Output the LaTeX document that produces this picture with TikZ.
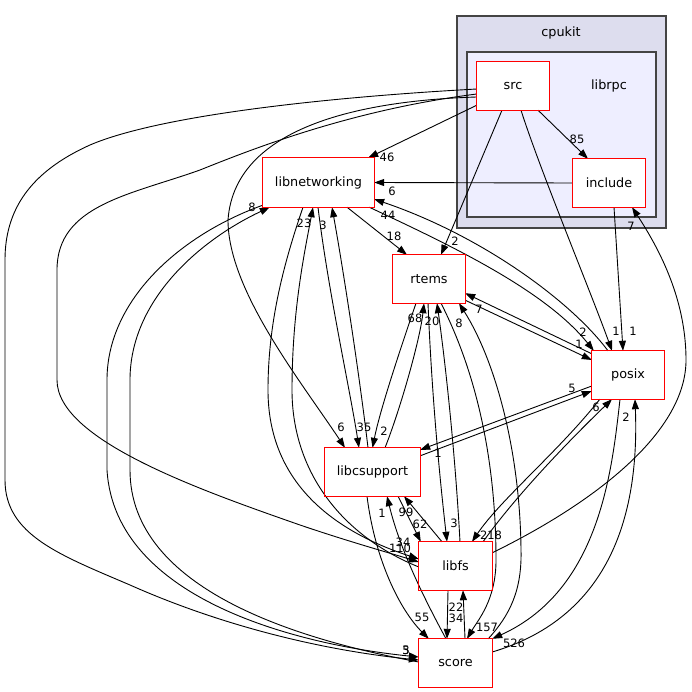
\documentclass[tikz,border=0pt]{standalone}
\usepackage{fontspec}
\setmainfont{DejaVu Sans}
\usetikzlibrary{arrows.meta,calc}
\definecolor{boxred}{RGB}{255,0,0}
\definecolor{outerfill}{RGB}{221,221,238}
\definecolor{innerfill}{RGB}{238,238,255}
\definecolor{clline}{RGB}{68,68,68}
\begin{document}
\begin{tikzpicture}[x=1pt,y=-1pt,
  dnode/.style={fill=white, minimum width=72pt, minimum height=48pt, inner sep=0pt, font=\fontsize{12.8}{15}\selectfont},
  clbox/.style={draw=clline, line width=1.3pt},
  dep/.style={-{Triangle[length=10pt,width=7pt]}, line width=0.9pt},
  lbl/.style={inner sep=0pt, font=\fontsize{11.5}{13}\selectfont},
  rim/.style={draw=boxred, line width=1.1pt}]
\useasboundingbox (0,0) rectangle (691,692);
% clusters
\draw[clbox, fill=outerfill] (457,16) rectangle (666,228);
\node[lbl, font=\fontsize{12.8}{15}\selectfont] (cpukitlbl) at (561,33) {cpukit};
\draw[clbox, fill=innerfill] (467,52) rectangle (656,217);
\node[lbl, font=\fontsize{12.8}{15}\selectfont] (librpclbl) at (609,86) {librpc};
% nodes
\node[dnode] (src) at (513,86) {src};
\node[dnode] (include) at (609,183) {include};
\node[dnode, minimum width=111pt, minimum height=49pt] (libnet) at (318.5,182.5) {libnetworking};
\node[dnode] (rtems) at (429,279) {rtems};
\node[dnode] (posix) at (628,375) {posix};
\node[dnode, minimum width=95pt] (libcs) at (372.5,472) {libcsupport};
\node[dnode, minimum width=73pt] (libfs) at (455.5,566) {libfs};
\node[dnode, minimum width=73pt] (score) at (455.5,663) {score};
% edges from src
\draw[dep] ($(src.south west)+(0,-5)$) -- ($(libnet.north east)+(-6,0)$);
\draw[dep] ($(src.south)+(25,0)$) -- ($(include.north)+(-21,0)$);
\draw[dep] ($(src.south)+(-11,0)$) -- ($(rtems.north)+(12,0)$);
\draw[dep] ($(src.south)+(8,0)$) .. controls (540,170) and (590,290) .. ($(posix.north)+(-16,0)$);
\draw[dep] ($(src.west)+(0,11)$) .. controls (380,100) and (235,120) .. (228,220) .. controls (228,290) and (300,380) .. ($(libcs.north)+(-27.5,0)$);
\draw[dep] ($(src.west)+(0,8)$) .. controls (350,110) and (250,150) .. (200,170) .. controls (130,195) and (57,205) .. (57,270) -- (57,380) .. controls (57,440) and (200,490) .. (300,525) .. controls (350,542) and (390,553) .. ($(libfs.west)+(0,-4)$);
\draw[dep] ($(src.west)+(0,3)$) .. controls (330,97) and (160,115) .. (90,145) .. controls (30,172) and (5,210) .. (5,260) -- (5,480) .. controls (5,535) and (60,555) .. (130,585) .. controls (220,625) and (320,650) .. ($(score.west)+(0,-3)$);
% include
\draw[dep] (include.west) -- (libnet.east);
\draw[dep] ($(include.south)+(5,0)$) -- ($(posix.north)+(-5,0)$);
% libnetworking
\draw[dep] ($(libnet.south)+(28.5,0)$) -- ($(rtems.north)+(-22,0)$);
\draw[dep] ($(libnet.south east)+(-5,0)$) .. controls (450,245) and (545,290) .. ($(posix.north west)+(2,0)$);
\draw[dep] ($(libnet.south)+(-0.5,0)$) .. controls (328,290) and (350,390) .. ($(libcs.north)+(-13.5,0)$);
\draw[dep] ($(libnet.south)+(-15.5,0)$) .. controls (285,260) and (268,320) .. (268,390) .. controls (268,480) and (330,530) .. ($(libfs.west)+(0,-7)$);
\draw[dep] ($(libnet.south west)+(0,-2)$) .. controls (180,235) and (107,300) .. (107,380) -- (107,470) .. controls (115,600) and (300,645) .. ($(score.west)+(0,-6)$);
% rtems
\draw[dep] ($(rtems.south east)+(0,-3)$) -- ($(posix.west)+(0,-15)$);
\draw[dep] ($(rtems.south)+(-13,0)$) .. controls (400,350) and (380,410) .. (libcs.north);
\draw[dep] ($(rtems.south)+(-1,0)$) .. controls (432,400) and (440,480) .. ($(libfs.north)+(-8.5,0)$);
\draw[dep] ($(rtems.south)+(12,0)$) .. controls (480,380) and (496,470) .. (496,560) .. controls (496,600) and (478,620) .. ($(score.north)+(11.5,0)$);
% posix
\draw[dep] ($(posix.north)+(-20,0)$) .. controls (570,300) and (480,235) .. ($(libnet.south east)+(0,-8)$);
\draw[dep] ($(posix.north west)+(0,3)$) -- ($(rtems.south east)+(0,-10)$);
\draw[dep] ($(posix.west)+(0,11)$) -- ($(libcs.north east)+(0,2)$);
\draw[dep] ($(posix.south west)+(8,0)$) .. controls (560,450) and (500,500) .. ($(libfs.north)+(16.5,0)$);
\draw[dep] ($(posix.south)+(-8,0)$) .. controls (612,470) and (600,590) .. (score.north east);
% libcsupport
\draw[dep] ($(libcs.north)+(-4.5,0)$) .. controls (360,380) and (345,280) .. ($(libnet.south)+(13.5,0)$);
\draw[dep] ($(libcs.north)+(12.5,0)$) .. controls (400,410) and (420,340) .. ($(rtems.south)+(-5,0)$);
\draw[dep] ($(libcs.north east)+(0,8)$) -- ($(posix.west)+(0,16)$);
\draw[dep] ($(libcs.south)+(25.5,0)$) -- ($(libfs.north west)+(2,0)$);
\draw[dep] ($(libcs.south)+(-5.5,0)$) .. controls (375,560) and (400,610) .. ($(score.north west)+(10,0)$);
% libfs
\draw[dep] ($(libfs.west)+(0,1)$) .. controls (340,535) and (292,470) .. (292,390) .. controls (292,310) and (305,250) .. ($(libnet.south)+(-5.5,0)$);
\draw[dep] ($(libfs.north)+(4.5,0)$) .. controls (455,450) and (445,360) .. ($(rtems.south)+(8,0)$);
\draw[dep] ($(libfs.north)+(27.5,0)$) .. controls (520,490) and (580,430) .. ($(posix.south)+(-16,0)$);
\draw[dep] ($(libfs.north)+(-13.5,0)$) -- ($(libcs.south)+(31.5,0)$);
\draw[dep] ($(libfs.south)+(-7.5,0)$) -- ($(score.north)+(-8.5,0)$);
\draw[dep] ($(libfs.north east)+(0,11)$) .. controls (600,500) and (686,430) .. (686,360) .. controls (686,300) and (660,250) .. ($(include.south)+(23,0)$);
% score
\draw[dep] ($(score.west)+(0,-1)$) .. controls (300,640) and (130,590) .. (130,470) -- (130,380) .. controls (130,300) and (200,240) .. ($(libnet.south west)+(7,0)$);
\draw[dep] ($(score.north east)+(-4,0)$) .. controls (510,615) and (522,590) .. (521,550) .. controls (520,450) and (495,360) .. ($(rtems.south)+(30,0)$);
\draw[dep] ($(score.east)+(0,-11)$) .. controls (600,620) and (640,530) .. ($(posix.south)+(7,0)$);
\draw[dep] ($(score.north)+(-9.5,0)$) .. controls (425,600) and (400,550) .. ($(libcs.south)+(14.5,0)$);
\draw[dep] ($(score.north)+(9.5,0)$) -- ($(libfs.south)+(7.5,0)$);
% red rims of the boxes, drawn once on top
\foreach \n in {src,include,libnet,rtems,posix,libcs,libfs,score}
  \draw[rim] (\n.south west) rectangle (\n.north east);
% labels
\node[lbl] (l1) at (387,157) {46};
\node[lbl] (l2) at (577,139) {85};
\node[lbl] (l3) at (455,241) {2};
\node[lbl] (l4) at (616,331) {1};
\node[lbl] (l5) at (392,191) {6};
\node[lbl] (l6) at (633,331) {1};
\node[lbl] (l7) at (341,427) {6};
\node[lbl] (l8) at (400,548) {110};
\node[lbl] (l9) at (406,650) {3};
\node[lbl] (l10) at (394,236) {18};
\node[lbl] (l11) at (583,332) {2};
\node[lbl] (l12) at (388,215) {44};
\node[lbl] (l13) at (364,427) {35};
\node[lbl] (l14) at (323,225) {3};
\node[lbl] (l15) at (403,542) {34};
\node[lbl] (l16) at (304,223) {23};
\node[lbl] (l17) at (406,650) {5};
\node[lbl] (l18) at (252,207) {8};
\node[lbl] (l19) at (579,344) {1};
\node[lbl] (l20) at (479,309) {7};
\node[lbl] (l21) at (384,431) {2};
\node[lbl] (l22) at (415,318) {68};
\node[lbl] (l23) at (454,523) {3};
\node[lbl] (l24) at (432,321) {20};
\node[lbl] (l25) at (487,627) {157};
\node[lbl] (l26) at (459,323) {8};
\node[lbl] (l27) at (438,453) {1};
\node[lbl] (l28) at (572,388) {5};
\node[lbl] (l29) at (491,535) {218};
\node[lbl] (l30) at (596,407) {6};
\node[lbl] (l31) at (514,643) {526};
\node[lbl] (l32) at (626,417) {2};
\node[lbl] (l33) at (420,524) {62};
\node[lbl] (l34) at (406,512) {99};
\node[lbl] (l35) at (422,617) {55};
\node[lbl] (l36) at (382,513) {1};
\node[lbl] (l37) at (456,618) {34};
\node[lbl] (l38) at (456,607) {22};
\node[lbl] (l39) at (631,226) {7};
\end{tikzpicture}
\end{document}
